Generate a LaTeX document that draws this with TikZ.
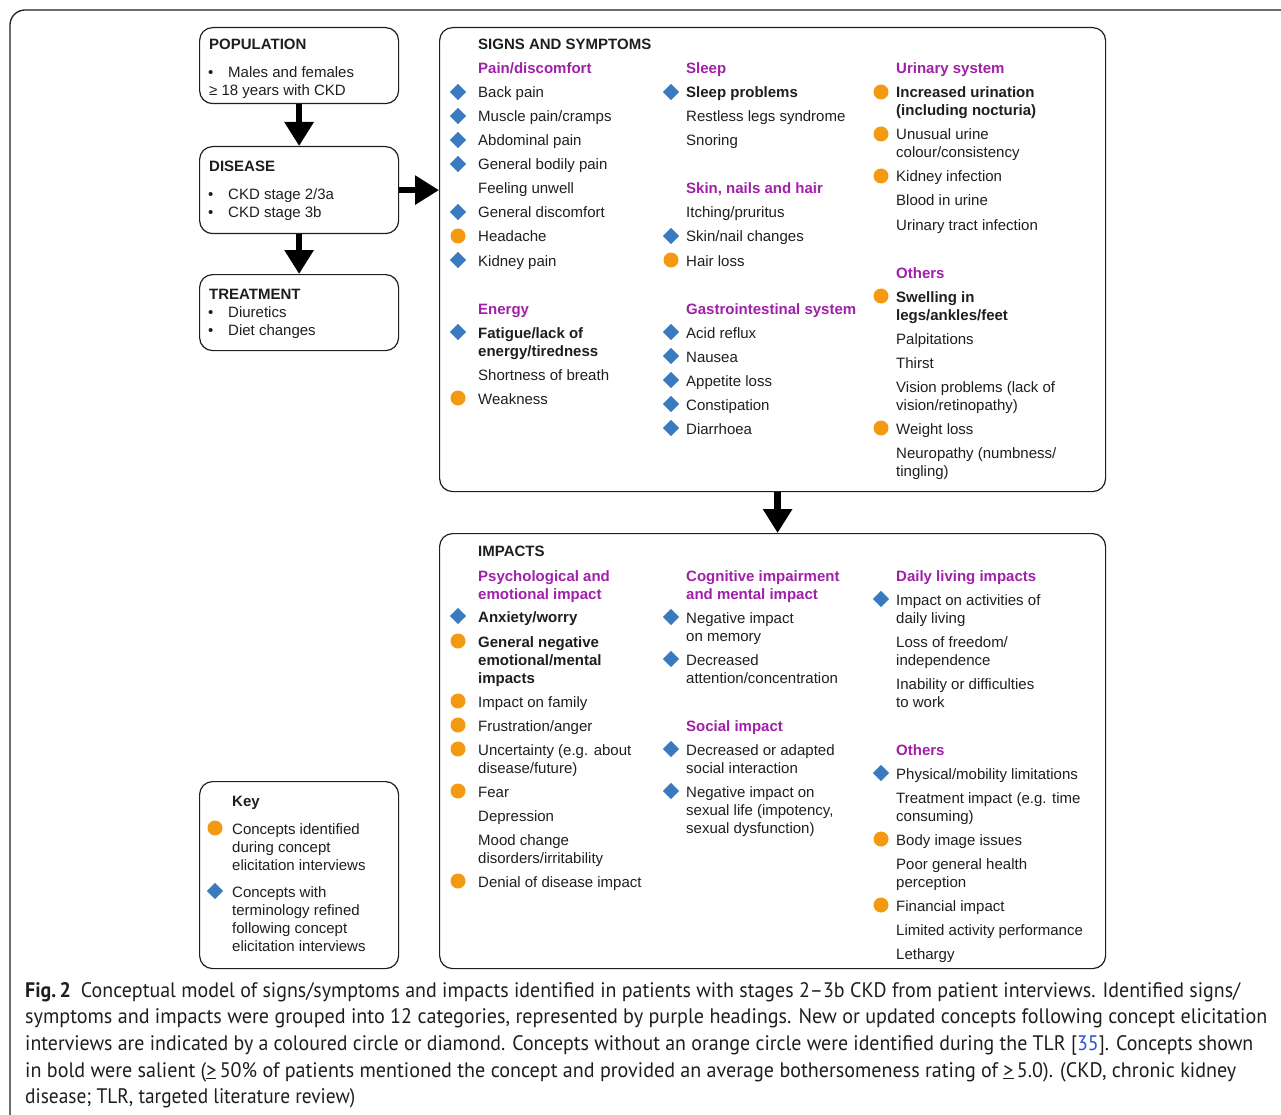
\documentclass[tikz,border=0pt]{standalone}
\usepackage{fontspec}
\usepackage{graphicx}
\setmainfont{Liberation Sans}
\newfontfamily\capfont{PT Sans}
\usetikzlibrary{arrows.meta,shapes.geometric}
\definecolor{catpurple}{HTML}{A020A8}
\definecolor{mkorange}{HTML}{F39A12}
\definecolor{mkblue}{HTML}{3A7ABF}
\definecolor{linkblue}{HTML}{2B4FD8}
\definecolor{ink}{HTML}{1E1E1E}
\newcommand\ml[1]{\begin{tabular}[t]{@{}l@{}}#1\end{tabular}}
\newcommand\itemD[6][]{\node[itxt,#1] (#2) at (#4,#5+6) {\ml{#6}}; \node[dmark] (#2m) at (#3,#5) {};}
\newcommand\itemC[6][]{\node[itxt,#1] (#2) at (#4,#5+6) {\ml{#6}}; \node[cmark] (#2m) at (#3,#5) {};}
\newcommand\itemN[5][]{\node[itxt,#1] (#2) at (#3,#4+6) {\ml{#5}};}
\newcommand\cathead[4]{\node[cat] (#1) at (#2,#3+6) {\ml{#4}};}
\begin{document}
\begin{tikzpicture}[x=1pt,y=-1pt,
  itxt/.style={anchor=base west,inner sep=0pt,text=ink,font=\fontsize{15}{18}\selectfont},
  bhead/.style={anchor=base west,inner sep=0pt,text=ink,font=\fontsize{15}{18}\selectfont\bfseries},
  cat/.style={anchor=base west,inner sep=0pt,text=catpurple,font=\fontsize{15}{18}\selectfont\bfseries},
  dmark/.style={diamond,fill=mkblue,inner sep=0pt,minimum width=16.5pt,minimum height=16.5pt},
  cmark/.style={circle,fill=mkorange,inner sep=0pt,minimum size=15pt},
  box/.style={draw=ink,line width=1.2pt,rounded corners=13pt,anchor=north west,inner sep=0pt},
  bigarrow/.style={line width=6.5pt,draw=black,-{Triangle[width=28pt,length=24pt]}},
  capn/.style={anchor=base west,inner sep=0pt,text=ink,font=\capfont\fontsize{21}{24}\selectfont}]
\useasboundingbox (0,0) rectangle (1281,1115);
% outer frame
\draw[line width=1.3pt,draw=ink,rounded corners=15pt] (10,1116) -- (10,10) -- (1281,10);

% left column boxes
\node[box,minimum width=199pt,minimum height=76pt] (pop) at (199,27) {};
\node[box,minimum width=199pt,minimum height=87pt] (dis) at (199,146) {};
\node[box,minimum width=199pt,minimum height=76pt] (trt) at (199,274) {};
\node[box,minimum width=199pt,minimum height=187pt] (key) at (199,781) {};
% main boxes
\node[box,minimum width=666pt,minimum height=464pt] (sig) at (439,27) {};
\node[box,minimum width=666pt,minimum height=435pt] (imp) at (439,533) {};

% arrows
\draw[bigarrow] (pop.south) -- (dis.north);
\draw[bigarrow] (dis.south) -- (trt.north);
\draw[bigarrow] (dis.east) -- (dis.east -| sig.west);
\draw[bigarrow] ([xshift=5pt]sig.south) -- ([xshift=5pt]imp.north);

% population / disease / treatment
\node[bhead] (popt) at (209,50) {POPULATION};
\node[itxt] (popb) at (208,78) {•};
\node[itxt] (pop1) at (228,78) {Males and females};
\node[itxt] (pop2) at (209,96) {≥ 18 years with CKD};
\node[bhead] (dist) at (209,172) {DISEASE};
\node[itxt] (disb1) at (208,200) {•};
\node[itxt] (dis1) at (228,200) {CKD stage 2/3a};
\node[itxt] (disb2) at (208,218) {•};
\node[itxt] (dis2) at (228,218) {CKD stage 3b};
\node[bhead] (trtt) at (209,299) {TREATMENT};
\node[itxt] (trtb1) at (208,317) {•};
\node[itxt] (trt1) at (228,317) {Diuretics};
\node[itxt] (trtb2) at (208,335) {•};
\node[itxt] (trt2) at (228,335) {Diet changes};

% key
\node[bhead] (keyt) at (232,806) {Key};
\itemC{k1}{215}{232}{828}{Concepts identified\\during concept\\elicitation interviews}
\itemD{k2}{215}{232}{891}{Concepts with\\terminology refined\\following concept\\elicitation interviews}

% SIGNS AND SYMPTOMS
\node[bhead] (sigt) at (478,50) {SIGNS AND SYMPTOMS};
\cathead{c1}{478}{68}{Pain/discomfort}
\itemD{s1}{458}{478}{92}{Back pain}
\itemD{s2}{458}{478}{116}{Muscle pain/cramps}
\itemD{s3}{458}{478}{140}{Abdominal pain}
\itemD{s4}{458}{478}{164}{General bodily pain}
\itemN{s5}{478}{188}{Feeling unwell}
\itemD{s6}{458}{478}{212}{General discomfort}
\itemC{s7}{458}{478}{236}{Headache}
\itemD{s8}{458}{478}{260}{Kidney pain}
\cathead{c2}{478}{308}{Energy}
\itemD[font=\fontsize{15}{18}\selectfont\bfseries]{s9}{458}{478}{332}{Fatigue/lack of\\energy/tiredness}
\itemN{s10}{478}{374}{Shortness of breath}
\itemC{s11}{458}{478}{398}{Weakness}

\cathead{c3}{686}{68}{Sleep}
\itemD[font=\fontsize{15}{18}\selectfont\bfseries]{s12}{671}{686}{92}{Sleep problems}
\itemN{s13}{686}{116}{Restless legs syndrome}
\itemN{s14}{686}{140}{Snoring}
\cathead{c4}{686}{188}{Skin, nails and hair}
\itemN{s15}{686}{212}{Itching/pruritus}
\itemD{s16}{671}{686}{236}{Skin/nail changes}
\itemC{s17}{671}{686}{260}{Hair loss}
\cathead{c5}{686}{308}{Gastrointestinal system}
\itemD{s18}{671}{686}{332}{Acid reflux}
\itemD{s19}{671}{686}{356}{Nausea}
\itemD{s20}{671}{686}{380}{Appetite loss}
\itemD{s21}{671}{686}{404}{Constipation}
\itemD{s22}{671}{686}{428}{Diarrhoea}

\cathead{c6}{896}{68}{Urinary system}
\itemC[font=\fontsize{15}{18}\selectfont\bfseries]{s23}{881}{896}{92}{Increased urination\\(including nocturia)}
\itemC{s24}{881}{896}{134}{Unusual urine\\colour/consistency}
\itemC{s25}{881}{896}{176}{Kidney infection}
\itemN{s26}{896}{200}{Blood in urine}
\itemN{s27}{896}{224}{Urinary tract infection}
\cathead{c7}{896}{272}{Others}
\itemC[font=\fontsize{15}{18}\selectfont\bfseries]{s28}{881}{896}{296}{Swelling in\\legs/ankles/feet}
\itemN{s29}{896}{338}{Palpitations}
\itemN{s30}{896}{362}{Thirst}
\itemN{s31}{896}{386}{Vision problems (lack of\\vision/retinopathy)}
\itemC{s32}{881}{896}{428}{Weight loss}
\itemN{s33}{896}{452}{Neuropathy (numbness/\\tingling)}

% IMPACTS
\node[bhead] (impt) at (478,556) {IMPACTS};
\cathead{c8}{478}{575}{Psychological and\\emotional impact}
\itemD[font=\fontsize{15}{18}\selectfont\bfseries]{i1}{458}{478}{616}{Anxiety/worry}
\itemC[font=\fontsize{15}{18}\selectfont\bfseries]{i2}{458}{478}{641}{General negative\\emotional/mental\\impacts}
\itemC{i3}{458}{478}{701}{Impact on family}
\itemC{i4}{458}{478}{725}{Frustration/anger}
\itemC{i5}{458}{478}{749}{Uncertainty (e.g. about\\disease/future)}
\itemC{i6}{458}{478}{791}{Fear}
\itemN{i7}{478}{815}{Depression}
\itemN{i8}{478}{839}{Mood change\\disorders/irritability}
\itemC{i9}{458}{478}{881}{Denial of disease impact}

\cathead{c9}{686}{575}{Cognitive impairment\\and mental impact}
\itemD{i10}{671}{686}{617}{Negative impact\\on memory}
\itemD{i11}{671}{686}{659}{Decreased\\attention/concentration}
\cathead{c10}{686}{725}{Social impact}
\itemD{i12}{671}{686}{749}{Decreased or adapted\\social interaction}
\itemD{i13}{671}{686}{791}{Negative impact on\\sexual life (impotency,\\sexual dysfunction)}

\cathead{c11}{896}{575}{Daily living impacts}
\itemD{i14}{881}{896}{599}{Impact on activities of\\daily living}
\itemN{i15}{896}{641}{Loss of freedom/\\independence}
\itemN{i16}{896}{683}{Inability or difficulties\\to work}
\cathead{c12}{896}{749}{Others}
\itemD{i17}{881}{896}{773}{Physical/mobility limitations}
\itemN{i18}{896}{797}{Treatment impact (e.g. time\\consuming)}
\itemC{i19}{881}{896}{839}{Body image issues}
\itemN{i20}{896}{863}{Poor general health\\perception}
\itemC{i21}{881}{896}{905}{Financial impact}
\itemN{i22}{896}{929}{Limited activity performance}
\itemN{i23}{896}{953}{Lethargy}

% caption
\node[capn] (cap1) at (25,997) {\resizebox{1215pt}{\height}{\textbf{Fig.\,2}\enspace Conceptual model of signs/symptoms and impacts identified in patients with stages 2–3b CKD from patient interviews. Identified signs/}};
\node[capn] (cap2) at (25,1023) {\resizebox{1242pt}{\height}{symptoms and impacts were grouped into 12 categories, represented by purple headings. New or updated concepts following concept elicitation}};
\node[capn] (cap3) at (25,1050) {\resizebox{1228pt}{\height}{interviews are indicated by a coloured circle or diamond. Concepts without an orange circle were identified during the TLR [\textcolor{linkblue}{35}]. Concepts shown}};
\node[capn] (cap4) at (25,1077) {\resizebox{1211pt}{\height}{in bold were salient (\underline{>}\,50\% of patients mentioned the concept and provided an average bothersomeness rating of \underline{>}\,5.0). (CKD, chronic kidney}};
\node[capn] (cap5) at (25,1103) {\resizebox{330pt}{\height}{disease; TLR, targeted literature review)}};
\end{tikzpicture}
\end{document}
